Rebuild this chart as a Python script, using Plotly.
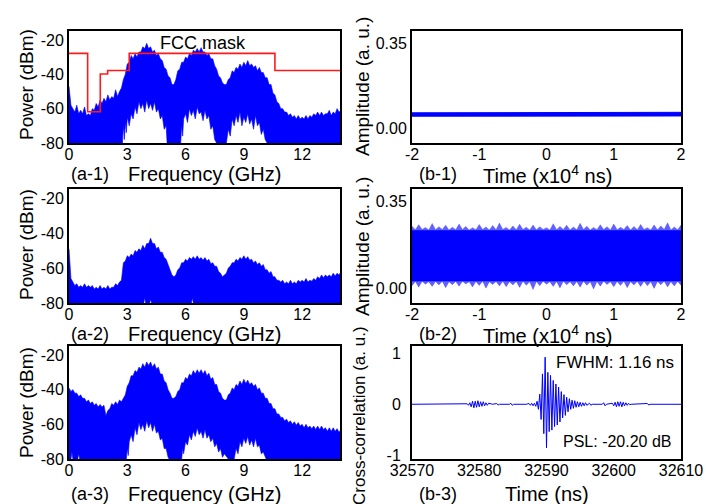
import plotly.graph_objects as go

W, H = 706, 504
FONT = "Arial, 'Liberation Sans', Helvetica, sans-serif"
BLUE = "#0000ff"
RED = "#ff1a1a"

# ---------------- spectra (dBm), 0.1 GHz analyser bins ----------------
FREQ_GHZ = [round(0.1 * i, 1) for i in range(141)]

A1_PEAK = [-47, -58, -60, -62, -58, -63, -61, -63, -59, -64,
           -63, -64, -60, -61, -57, -59, -55, -57, -54, -56,
           -52, -55, -53, -54, -49, -53, -50, -48, -43, -40,
           -34, -33, -29, -31, -28, -30, -27, -27, -24, -25,
           -22, -25, -24, -27, -26, -29, -28, -31, -32, -36,
           -37, -41, -42, -46, -46, -43, -38, -37, -33, -33,
           -30, -31, -28, -29, -26, -27, -25, -27, -24.5, -27,
           -27, -29, -28, -31, -31, -35, -37, -41, -42, -45,
           -46, -46, -43, -42, -38, -39, -36, -37, -34, -36,
           -33, -35, -32, -35, -34, -36, -35, -38, -36, -39,
           -39, -42, -42, -46, -46, -51, -52, -56, -57, -60,
           -60, -62, -62, -64, -63, -65, -64, -66, -64, -66,
           -65, -66, -64, -66, -64, -65, -63, -64, -62, -64,
           -62, -64, -63, -63, -61, -64, -62, -63, -60, -62,
           -61]
A2_PEAK = [-49, -66, -68, -70, -69, -71, -70, -71, -69, -71,
           -70, -71, -70, -72, -71, -72, -70, -72, -71, -72,
           -70, -72, -71, -71, -69, -70, -68, -67, -57, -56,
           -53, -54, -52, -53, -50, -51, -49, -50, -47, -49,
           -46, -46, -43, -46, -46, -49, -48, -51, -51, -54,
           -55, -58, -60, -64, -65, -64, -61, -60, -57, -57,
           -55, -56, -54, -55, -53.5, -55, -53, -55, -54, -55.5,
           -54, -56, -55, -57.5, -57, -59, -59, -62, -63, -65,
           -64, -63, -60, -59, -57, -57, -55, -56, -54, -55,
           -53, -55, -53.5, -55.5, -55, -57, -56, -58, -57, -59,
           -58, -61, -61, -63, -62, -65, -65, -67, -67, -68,
           -67, -69, -68, -69, -67, -69, -68, -69, -67, -68,
           -67, -68, -66, -68, -67, -67.5, -66, -67, -65, -66,
           -64, -65.5, -64, -65, -64, -65, -63, -64.5, -63, -64,
           -62]
A3_PEAK = [-39, -41, -40, -42, -42, -44, -43, -45, -45, -47,
           -46, -48, -47, -49, -48, -50, -48.5, -50, -49, -55,
           -52, -51, -48, -49, -47, -48.5, -46, -47, -45, -43,
           -38, -36, -32, -32, -29, -30, -27, -28, -25, -27,
           -24, -26, -24, -27, -25, -28, -27, -31, -31, -35,
           -36, -40, -42, -45, -45, -44, -41, -40, -36, -36,
           -33, -34, -31, -32, -29, -31, -28.5, -30.5, -28.5, -31,
           -29, -32, -30.5, -34, -33, -37, -37, -41, -42, -45,
           -46, -46, -43, -42, -39, -40, -37, -38, -35, -37,
           -34, -36.5, -34.5, -37, -36, -38, -37, -40, -39, -42,
           -42, -45, -45, -48, -48, -51, -51, -54, -54, -56,
           -56, -58, -57, -59, -58, -60, -58.5, -60.5, -59, -61,
           -60, -62, -60, -62, -61, -62.5, -61, -63, -61, -63,
           -61, -63, -62, -64, -62, -64, -62, -64, -62.5, -64.5,
           -63]

# lower envelope of each trace (the gaps between the harmonic lobes)
A1_FLOOR_F = [0.0, 2.75, 2.8, 2.85, 2.9, 2.95, 3.0, 3.1, 3.2, 3.3, 3.4, 3.5, 3.6, 3.7, 3.8,
              3.9, 4.0, 4.1, 4.2, 4.3, 4.4, 4.5, 4.6, 4.7, 4.8, 4.9, 5.0, 5.05,
              5.75, 5.8, 5.85, 5.9, 6.0, 6.1, 6.2, 6.3, 6.4, 6.5, 6.6, 6.7, 6.8, 6.9,
              7.0, 7.1, 7.2, 7.3, 7.4, 7.5, 7.6,
              8.1, 8.2, 8.3, 8.4, 8.5, 8.6, 8.7, 8.8, 8.9, 9.0, 9.1, 9.2, 9.3, 9.4,
              9.5, 9.6, 9.7, 9.8, 9.9, 10.0, 10.1, 10.2, 14.0]
A1_FLOOR_P = [-80, -80, -70, -78, -68, -74, -65, -70, -63, -66, -59, -63, -56, -60, -57,
              -62, -55, -60, -57, -61, -56, -62, -60, -66, -64, -72, -70, -80,
              -80, -70, -76, -66, -63, -68, -60, -64, -61, -66, -59, -63, -62, -67,
              -61, -66, -64, -72, -70, -78, -80,
              -80, -72, -76, -66, -70, -64, -68, -62, -70, -65, -68, -63, -69, -66,
              -72, -64, -70, -68, -75, -72, -78, -80, -80]
A2_FLOOR_F = [0.0, 3.85, 3.9, 3.95, 4.15, 4.2, 4.25, 6.3, 6.35, 6.4, 14.0]
A2_FLOOR_P = [-80, -80, -77, -80, -80, -78, -80, -80, -77, -80, -80]
A3_FLOOR_F = [0.0, 0.1, 0.15, 0.2, 0.45, 0.5, 0.55,
              2.95, 3.0, 3.05, 3.1, 3.2, 3.3, 3.4, 3.5, 3.6, 3.7, 3.8, 3.9, 4.0, 4.1,
              4.2, 4.3, 4.4, 4.5, 4.6, 4.7, 4.8, 4.9, 5.0, 5.1, 5.15,
              5.8, 5.85, 5.9, 6.0, 6.1, 6.2, 6.3, 6.4, 6.5, 6.6, 6.7, 6.8, 6.9, 7.0,
              7.1, 7.2, 7.3, 7.4, 7.5, 7.6, 7.7, 7.8, 7.9, 8.0, 8.2,
              8.5, 8.6, 8.7, 8.8, 8.9, 9.0, 9.1, 9.2, 9.3, 9.4, 9.5, 9.6, 9.7, 9.8,
              9.9, 10.0, 10.15, 14.0]
A3_FLOOR_P = [-80, -80, -76, -80, -80, -77, -80,
              -80, -74, -78, -70, -66, -70, -62, -66, -59, -63, -60, -64, -58, -62,
              -59, -64, -60, -65, -64, -69, -68, -74, -74, -79, -80,
              -80, -74, -77, -70, -72, -66, -69, -64, -67, -62, -66, -64, -68, -63,
              -68, -66, -70, -68, -73, -71, -76, -74, -79, -77, -80,
              -80, -74, -77, -70, -73, -68, -71, -67, -72, -69, -73, -68, -73, -72,
              -77, -76, -80, -80]

# FCC indoor emission mask, shifted to the analyser scale
MASK_F = [0.0, 0.96, 0.96, 1.61, 1.61, 1.99, 1.99, 3.1, 3.1, 10.6, 10.6, 14.0]
MASK_P = [-27.8, -27.8, -61.8, -61.8, -39.8, -39.8, -37.8, -37.8, -27.8, -27.8, -37.8, -37.8]

# ---------------- waveforms (time in units of 1e4 ns) ----------------
T_1E4NS = [-2.0, -1.5, -1.0, -0.5, 0.0, 0.5, 1.0, 1.5, 2.0]
B1_HI = [0.066, 0.066, 0.065, 0.066, 0.066, 0.066, 0.067, 0.067, 0.068]
B1_LO = [0.052, 0.052, 0.051, 0.052, 0.052, 0.052, 0.052, 0.053, 0.053]

T2_1E4NS = [round(-2 + 0.05 * i, 2) for i in range(81)]
B2_HI = [0.252, 0.238, 0.258, 0.239, 0.247, 0.237, 0.263, 0.238, 0.250, 0.239,
         0.256, 0.237, 0.248, 0.238, 0.261, 0.239, 0.251, 0.237, 0.246, 0.238,
         0.259, 0.239, 0.249, 0.237, 0.255, 0.238, 0.265, 0.239, 0.247, 0.237,
         0.253, 0.238, 0.260, 0.239, 0.248, 0.237, 0.257, 0.238, 0.250, 0.239,
         0.246, 0.237, 0.262, 0.238, 0.251, 0.239, 0.256, 0.237, 0.249, 0.238,
         0.264, 0.239, 0.252, 0.237, 0.247, 0.238, 0.258, 0.239, 0.250, 0.237,
         0.261, 0.238, 0.248, 0.239, 0.255, 0.237, 0.251, 0.238, 0.259, 0.239,
         0.246, 0.237, 0.257, 0.238, 0.253, 0.239, 0.266, 0.237, 0.249, 0.238,
         0.256]
B2_LO = [0.012, 0.029, 0.006, 0.030, 0.018, 0.028, 0.009, 0.029, 0.015, 0.030,
         0.004, 0.028, 0.016, 0.029, 0.010, 0.030, 0.019, 0.028, 0.007, 0.029,
         0.013, 0.030, 0.002, 0.028, 0.017, 0.029, 0.011, 0.030, 0.008, 0.028,
         0.015, 0.029, 0.005, 0.030, 0.014, 0.028, -0.004, 0.029, 0.012, 0.030,
         0.018, 0.028, 0.009, 0.029, 0.003, 0.030, 0.016, 0.028, 0.011, 0.029,
         0.006, 0.030, 0.014, 0.028, -0.002, 0.029, 0.010, 0.030, 0.017, 0.028,
         0.008, 0.029, 0.013, 0.030, 0.004, 0.028, 0.015, 0.029, 0.009, 0.030,
         0.012, 0.028, 0.001, 0.029, 0.016, 0.030, 0.007, 0.028, 0.011, 0.029,
         0.014]
B2_CORE = [0.030, 0.236]

# cross-correlation with the template
XC_T = [32570.0, 32578.0,
        32578.2, 32578.4, 32578.6, 32578.8, 32579.0, 32579.2, 32579.4, 32579.6, 32579.8,
        32580.0, 32580.2, 32580.4, 32580.6, 32580.8, 32581.0, 32581.2, 32581.4,
        32582.0, 32582.6, 32582.8, 32583.0, 32584.5, 32584.7, 32584.9, 32585.1,
        32587.0, 32587.4, 32587.6, 32587.8, 32588.0,
        32588.2, 32588.4, 32588.6, 32588.8, 32589.0, 32589.2, 32589.4, 32589.6, 32589.8,
        32590.0, 32590.2, 32590.4, 32590.6, 32590.8, 32591.0, 32591.2, 32591.4, 32591.6,
        32591.8, 32592.0, 32592.2, 32592.4, 32592.6, 32592.8, 32593.0, 32593.2, 32593.4,
        32593.6, 32593.8, 32594.0, 32594.2, 32594.4, 32594.6, 32594.8, 32595.0, 32595.2,
        32595.4, 32595.6, 32595.8, 32596.0,
        32596.4, 32596.6, 32596.8, 32598.3, 32598.5, 32598.7, 32598.9,
        32599.8, 32600.0, 32600.2, 32600.4, 32600.6, 32600.8, 32601.0, 32601.2, 32601.4,
        32601.6, 32601.8, 32602.0, 32602.2, 32602.4, 32602.6,
        32605.0, 32605.2, 32605.4, 32610.0]
XC_V = [0.0, 0.0,
        0.01, -0.02, 0.03, -0.05, 0.06, -0.07, 0.06, -0.06, 0.07,
        -0.05, 0.05, -0.04, 0.05, -0.03, 0.03, -0.02, 0.02,
        0.0, 0.015, -0.015, 0.0, 0.0, 0.02, -0.02, 0.0,
        0.0, 0.015, -0.02, 0.02, -0.03,
        0.02, -0.04, 0.06, -0.10, 0.20, -0.30, 0.60, -0.58, 0.93,
        -0.86, 0.63, -0.54, 0.57, -0.51, 0.47, -0.44, 0.40, -0.41,
        0.34, -0.35, 0.25, -0.27, 0.19, -0.22, 0.14, -0.15, 0.11,
        -0.10, 0.08, -0.08, 0.07, -0.06, 0.05, -0.05, 0.04, -0.04,
        0.03, -0.03, 0.03, -0.02,
        0.02, -0.02, 0.0, 0.0, 0.03, -0.03, 0.0,
        0.02, -0.03, 0.04, -0.05, 0.05, -0.04, 0.05, -0.05, 0.04,
        -0.03, 0.03, -0.02, 0.02, -0.01, 0.0,
        0.015, -0.015, 0.0, 0.0]

# ---------------- ticks ----------------
F_TICKS = [0, 3, 6, 9, 12]
F_TICKTEXT = ["0", "3", "6", "9", "12"]
P_TICKS = [-20, -40, -60, -80]
P_TICKTEXT = ["-20", "-40", "-60", "-80"]
T_TICKS = [-2, -1, 0, 1, 2]
T_TICKTEXT = ["-2", "-1", "0", "1", "2"]
AMP_TICKS = [0.0, 0.35]
AMP_TICKTEXT = ["0.00", "0.35"]
XC_TTICKS = [32570, 32580, 32590, 32600, 32610]
XC_TTICKTEXT = ["32570", "32580", "32590", "32600", "32610"]
XC_VTICKS = [1, 0, -1]
XC_VTICKTEXT = ["1", "0", "-1"]


def px(x):
    return x / W


def py(y):
    return 1 - y / H


fig = go.Figure()


def band(xs_top, ys_top, xs_bot, ys_bot, k, color, lw=0.6):
    """Filled region between an upper and a lower envelope."""
    fig.add_trace(go.Scatter(
        x=list(xs_top) + list(xs_bot)[::-1],
        y=list(ys_top) + list(ys_bot)[::-1],
        fill="toself", fillcolor=color, mode="lines",
        line=dict(color=color, width=lw),
        xaxis=f"x{k}", yaxis=f"y{k}", hoverinfo="skip", showlegend=False))


# spectra
band(FREQ_GHZ, A1_PEAK, A1_FLOOR_F, A1_FLOOR_P, 1, BLUE)
band(FREQ_GHZ, A2_PEAK, A2_FLOOR_F, A2_FLOOR_P, 3, BLUE)
band(FREQ_GHZ, A3_PEAK, A3_FLOOR_F, A3_FLOOR_P, 5, BLUE)
fig.add_trace(go.Scatter(x=MASK_F, y=MASK_P, mode="lines",
                         line=dict(color=RED, width=1.6),
                         xaxis="x1", yaxis="y1", showlegend=False))

# waveforms
band(T_1E4NS, B1_HI, T_1E4NS, B1_LO, 2, BLUE, lw=1)
band(T2_1E4NS, B2_HI, T2_1E4NS, B2_LO, 4, "rgba(30,30,255,0.7)", lw=0.4)
band([T2_1E4NS[0], T2_1E4NS[-1]], [B2_CORE[1]] * 2,
     [T2_1E4NS[0], T2_1E4NS[-1]], [B2_CORE[0]] * 2, 4, BLUE, lw=0)
fig.add_trace(go.Scatter(x=XC_T, y=XC_V, mode="lines",
                         line=dict(color=BLUE, width=1),
                         xaxis="x6", yaxis="y6", showlegend=False))

# ---------------- layout ----------------
COLS = {"a": (69, 340), "b": (412, 681)}
ROWS = [(31, 143), (189, 303), (346, 459)]

frame = dict(showline=True, mirror=True, linecolor="black", linewidth=2,
             ticks="", showgrid=False, zeroline=False, automargin=False,
             tickfont=dict(family=FONT, size=16, color="black"))

layout = dict(width=W, height=H, margin=dict(l=0, r=0, t=0, b=0, autoexpand=False),
              paper_bgcolor="white", plot_bgcolor="white",
              font=dict(family=FONT, color="black"), showlegend=False)

for r, (top, bot) in enumerate(ROWS):
    for c, col in enumerate(["a", "b"]):
        k = 2 * r + c + 1
        x0, x1 = COLS[col]
        extra_y = {}
        if col == "a":
            xa = dict(range=[0, 13.95], tickvals=F_TICKS, ticktext=F_TICKTEXT)
            ya = dict(range=[-80, -14.8], tickvals=P_TICKS, ticktext=P_TICKTEXT)
        elif r < 2:
            xa = dict(range=[-2, 2], tickvals=T_TICKS, ticktext=T_TICKTEXT)
            ya = dict(range=[-0.058, 0.402], tickvals=AMP_TICKS, ticktext=AMP_TICKTEXT)
        else:
            xa = dict(range=[32570, 32610], tickvals=XC_TTICKS, ticktext=XC_TTICKTEXT)
            ya = dict(range=[-1.08, 1.15], tickvals=XC_VTICKS, ticktext=XC_VTICKTEXT)
            extra_y = dict(ticklabelstandoff=6)
        layout[f"xaxis{k}"] = dict(frame, domain=[px(x0), px(x1)], anchor=f"y{k}",
                                   ticklabelstandoff=-4, **xa)
        layout[f"yaxis{k}"] = dict(frame, domain=[py(bot), py(top)], anchor=f"x{k}",
                                   **ya, **extra_y)

fig.update_layout(**layout)


def label(text, x, y, size, angle=0, xanchor="center"):
    fig.add_annotation(text=text, x=px(x), y=py(y), xref="paper", yref="paper",
                       showarrow=False, textangle=angle, xanchor=xanchor, yanchor="middle",
                       font=dict(family=FONT, size=size, color="black"))


XT_Y = [174, 334, 494]
for r in range(3):
    label(f"(a-{r + 1})", 69, XT_Y[r], 18, xanchor="left")
    label("Frequency (GHz)", 204, XT_Y[r], 20)
    label(f"(b-{r + 1})", 417, XT_Y[r], 18, xanchor="left")
label("Time (x10<sup>4</sup> ns)", 547, XT_Y[0], 20)
label("Time (x10<sup>4</sup> ns)", 547, XT_Y[1], 20)
label("Time (ns)", 547, XT_Y[2], 20)

for yc in [85, 245, 403]:
    label("Power (dBm)", 26, yc, 19, angle=-90)
label("Amplitude (a. u.)", 362, 86, 19, angle=-90)
label("Amplitude (a. u.)", 362, 246, 19, angle=-90)
label("Cross-correlation (a. u.)", 359, 416, 17, angle=-90)

label("FCC mask", 203, 43, 18)
label("FWHM: 1.16 ns", 676, 362, 17, xanchor="right")
label("PSL: -20.20 dB", 674, 441, 16, xanchor="right")

fig.write_html("out.html")
